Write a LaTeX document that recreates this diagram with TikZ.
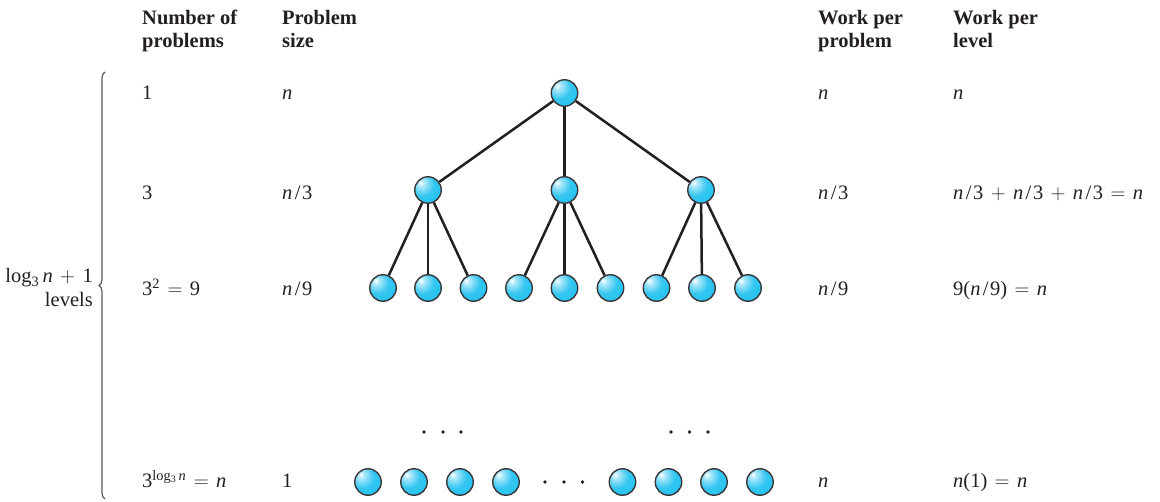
\documentclass[tikz,border=0pt]{standalone}
\usepackage{fontspec}
\setmainfont{Liberation Serif}
\usetikzlibrary{decorations.pathreplacing}

\definecolor{ballc}{RGB}{30,192,240}
\definecolor{inkc}{RGB}{35,31,32}
\definecolor{bracec}{RGB}{90,90,90}

% light sphere look: white highlight towards the upper left
\pgfdeclareradialshading{sphere}{\pgfpoint{-14bp}{14bp}}{%
  color(0bp)=(white);
  color(6bp)=(ballc!35!white);
  color(22bp)=(ballc!90!white);
  color(45bp)=(ballc);
  color(100bp)=(ballc)}

\newcommand\nv{\textit{n}}
% binary operator with math-style spacing
\newcommand\opsp[1]{\hspace{0.36em}$#1$\hspace{0.36em}}
\newcommand\frc[1]{\nv\kern2.4pt/\kern1.6pt#1}

\begin{document}
\begin{tikzpicture}[x=1pt,y=-1pt,
  txt/.style={inner sep=0pt, text=inkc, font=\fontsize{20.5}{23}\selectfont},
  head/.style={txt, font=\fontsize{20.5}{23}\selectfont\bfseries},
  ball/.style={circle, minimum size=26.5pt, inner sep=0pt, draw=inkc!90, line width=1.35pt, shading=sphere},
  edge/.style={draw=inkc, line width=2.5pt},
  dot/.style={circle, fill=inkc, inner sep=0pt, minimum size=3.8pt}]
\useasboundingbox (0,0) rectangle (1160,502);

% column headers
\node[head, anchor=base west] (h1a) at (142,25) {Number of};
\node[head, anchor=base west] (h1b) at (142,48) {problems};
\node[head, anchor=base west] (h2a) at (282,25) {Problem};
\node[head, anchor=base west] (h2b) at (282,48) {size};
\node[head, anchor=base west] (h3a) at (818,25) {Work per};
\node[head, anchor=base west] (h3b) at (818,48) {problem};
\node[head, anchor=base west] (h4a) at (953,25) {Work per};
\node[head, anchor=base west] (h4b) at (953,48) {level};

% number of problems per level
\node[txt, anchor=base west] (c1r1) at (142,100) {1};
\node[txt, anchor=base west] (c1r2) at (142,200) {3};
\node[txt, anchor=base west] (c1r3) at (142,296) {3\textsuperscript{2}\opsp{=}9};
\node[txt, anchor=base west] (c1r4) at (142,488) {3\textsuperscript{log\textsubscript{3}\,\nv}\opsp{=}\nv};

% problem size
\node[txt, anchor=base west] (c2r1) at (282,100) {\nv};
\node[txt, anchor=base west] (c2r2) at (282,200) {\frc{3}};
\node[txt, anchor=base west] (c2r3) at (282,296) {\frc{9}};
\node[txt, anchor=base west] (c2r4) at (282,488) {1};

% work per problem
\node[txt, anchor=base west] (c3r1) at (818,100) {\nv};
\node[txt, anchor=base west] (c3r2) at (818,200) {\frc{3}};
\node[txt, anchor=base west] (c3r3) at (818,296) {\frc{9}};
\node[txt, anchor=base west] (c3r4) at (818,488) {\nv};

% work per level
\node[txt, anchor=base west] (c4r1) at (953,100) {\nv};
\node[txt, anchor=base west] (c4r2) at (953,200) {\frc{3}\opsp{+}\frc{3}\opsp{+}\frc{3}\opsp{=}\nv};
\node[txt, anchor=base west] (c4r3) at (953,296) {9(\frc{9})\opsp{=}\nv};
\node[txt, anchor=base west] (c4r4) at (953,488) {\nv(1)\opsp{=}\nv};

% brace spanning all levels
\draw[bracec, line width=1.2pt, decorate, decoration={brace, amplitude=6pt, aspect=0.5}]
  (105,499) -- (105,72);
\node[txt, anchor=base east] (lv1) at (93,283) {log\textsubscript{3}\,\nv\opsp{+}1};
\node[txt, anchor=base east] (lv2) at (93,307) {levels};

% recursion tree
\node[ball] (r) at (564.5,93) {};
\foreach \i/\x in {1/428,2/564.5,3/701}
  \node[ball] (m\i) at (\x,190) {};
\foreach \i/\x in {1/383,2/428,3/473.5,4/519,5/564.5,6/610.5,7/656.5,8/702,9/748}
  \node[ball] (l\i) at (\x,288) {};
\foreach \i in {1,2,3}
  \draw[edge] (r) -- (m\i);
\foreach \p/\a/\b/\c in {1/1/2/3,2/4/5/6,3/7/8/9} {
  \draw[edge] (m\p) -- (l\a);
  \draw[edge] (m\p) -- (l\b);
  \draw[edge] (m\p) -- (l\c);
}

% elided middle levels
\foreach \i/\x in {1/424,2/443,3/461,4/671,5/689.5,6/708}
  \node[dot] (u\i) at (\x,432) {};

% leaves
\foreach \i/\x in {1/368,2/414,3/460,4/506,5/622.5,6/668.5,7/714,8/760}
  \node[ball] (b\i) at (\x,482) {};
\foreach \i/\x in {1/545,2/564,3/582.5}
  \node[dot] (d\i) at (\x,482) {};
\end{tikzpicture}
\end{document}
